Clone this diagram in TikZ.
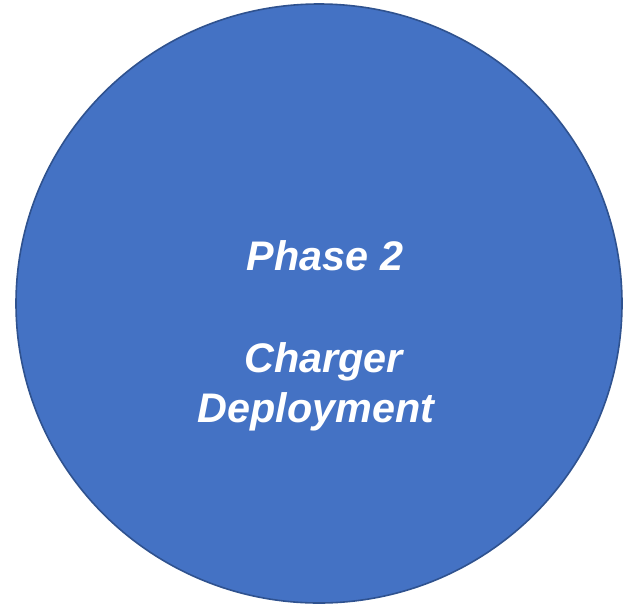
\documentclass[tikz,border=0pt]{standalone}
\usepackage{fontspec}
\setmainfont{Liberation Sans}
\definecolor{phasefill}{HTML}{4472C4}
\definecolor{phaseline}{HTML}{2F528F}

\begin{document}
\begin{tikzpicture}[x=0.75pt, y=-0.75pt,
	phasetext/.style={anchor=base, text=white, font=\fontsize{31}{37}\selectfont\bfseries\itshape, inner sep=0pt}]
	\useasboundingbox (0,0) rectangle (623,604);
	\draw[fill=phasefill, draw=phaseline, line width=1.2pt] (319,303.5) circle [x radius=303, y radius=299.5];
	\node[phasetext] (phase) at (325,270) {Phase 2};
	\node[phasetext] (charger) at (323.5,372) {Charger};
	\node[phasetext] (deploy) at (316,422) {Deployment};
\end{tikzpicture}
\end{document}
